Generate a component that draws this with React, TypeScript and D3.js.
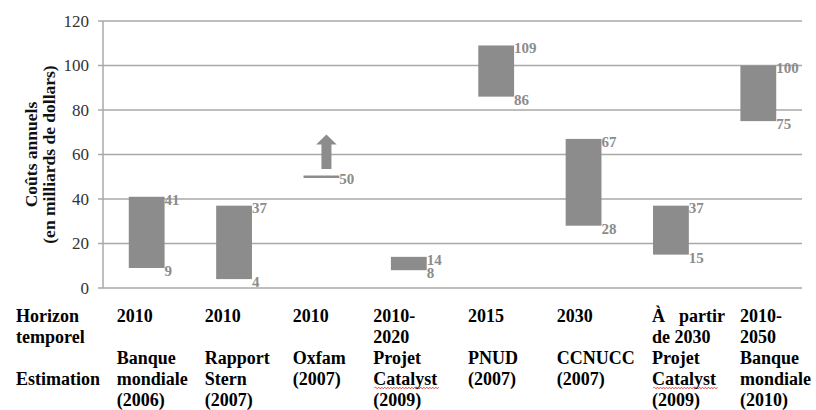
import React from "react";
import * as d3 from "d3";

const horizons: string[][] = [
  ["2010"],
  ["2010"],
  ["2010"],
  ["2010-", "2020"],
  ["2015"],
  ["2030"],
  ["À partir", "de 2030"],
  ["2010-", "2050"],
];
const estimations: string[][] = [
  ["Banque", "mondiale", "(2006)"],
  ["Rapport", "Stern", "(2007)"],
  ["Oxfam", "(2007)"],
  ["Projet", "Catalyst", "(2009)"],
  ["PNUD", "(2007)"],
  ["CCNUCC", "(2007)"],
  ["Projet", "Catalyst", "(2009)"],
  ["Banque", "mondiale", "(2010)"],
];
const lows: number[] = [9, 4, 50, 8, 86, 28, 15, 75];
const highs: (number | null)[] = [41, 37, null, 14, 109, 67, 37, 100];
const yTicks: number[] = [0, 20, 40, 60, 80, 100, 120];
const arrowTop = 69;
const arrowBottom = 53.5;
const arrowHeadBase = 64.5;

// layout
const W = 816;
const H = 410;
const left = 103;
const right = 802;
const top = 21;
const bottom = 288;
const tableX = [116.7, 204.7, 292.7, 373.3, 468, 556.7, 652, 740];
const rowBase = [321.5, 342.5, 363.5, 384.5, 405.5];
const GRID = "#a9a9a9";
const BAR = "#8c8c8c";
const SERIF = "'Liberation Serif', 'Times New Roman', serif";

function wavy(x0: number, x1: number, y: number): string {
  let d = `M${x0},${y}`;
  let up = true;
  for (let x = x0 + 1.5; x <= x1; x += 1.5) {
    d += ` L${x},${y + (up ? -0.9 : 0.9)}`;
    up = !up;
  }
  return d;
}

export default function App() {
  const x = d3
    .scaleBand<number>()
    .domain(lows.map((_, i) => i))
    .range([left, right])
    .padding(0);
  const y = d3.scaleLinear().domain([0, 120]).range([bottom, top]);
  const bw = x.bandwidth() * 0.41;

  return (
    <svg
      width={W}
      height={H}
      style={{ position: "absolute", left: 0, top: 0, background: "#fff" }}
      fontFamily={SERIF}
    >
      {/* grid lines */}
      {yTicks.map((t) => (
        <g key={t}>
          <line x1={left - 5} x2={right} y1={y(t)} y2={y(t)} stroke={GRID} strokeWidth={1.5} />
          <text
            x={89}
            y={y(t)}
            dy="0.35em"
            textAnchor="end"
            fontSize={17}
            fill="#333"
          >
            {t}
          </text>
        </g>
      ))}
      <line x1={left} x2={left} y1={top} y2={bottom} stroke={GRID} strokeWidth={1.5} />

      {/* y title */}
      <g transform={`translate(0, ${(top + bottom) / 2}) rotate(-90)`}>
        <text x={0} y={37} textAnchor="middle" fontSize={17.5} fontWeight="bold" fill="#111">
          Coûts annuels
        </text>
        <text x={0} y={55} textAnchor="middle" fontSize={17.5} fontWeight="bold" fill="#111">
          (en milliards de dollars)
        </text>
      </g>

      {/* bars */}
      {lows.map((lo, i) => {
        const cx = (x(i) as number) + x.bandwidth() / 2;
        const hi = highs[i];
        const x0 = cx - bw / 2;
        const x1 = cx + bw / 2;
        if (hi === null) {
          const ax = cx + 5;
          const sw = 10;
          const hw = 20.5;
          const arrow = `M${ax - sw / 2},${y(arrowBottom)} L${ax - sw / 2},${y(arrowHeadBase)} L${ax - hw / 2},${y(arrowHeadBase)} L${ax},${y(arrowTop)} L${ax + hw / 2},${y(arrowHeadBase)} L${ax + sw / 2},${y(arrowHeadBase)} L${ax + sw / 2},${y(arrowBottom)} Z`;
          return (
            <g key={i}>
              <line x1={x0} x2={x1} y1={y(lo)} y2={y(lo)} stroke={BAR} strokeWidth={2.5} />
              <path d={arrow} fill={BAR} />
              <text x={x1} y={y(lo) + 2} dy="0.35em" fontSize={15} fontWeight="bold" fill={BAR}>
                {lo}
              </text>
            </g>
          );
        }
        return (
          <g key={i}>
            <rect x={x0} width={bw} y={y(hi)} height={y(lo) - y(hi)} fill={BAR} />
            <text x={x1} y={y(hi) + 2.5} dy="0.35em" fontSize={15} fontWeight="bold" fill={BAR}>
              {hi}
            </text>
            <text x={x1} y={y(lo) + 3} dy="0.35em" fontSize={15} fontWeight="bold" fill={BAR}>
              {lo}
            </text>
          </g>
        );
      })}

      {/* table */}
      <g fontSize={18} fontWeight="bold" fill="#000">
        <text x={16} y={rowBase[0]}>Horizon</text>
        <text x={16} y={rowBase[1]}>temporel</text>
        <text x={16} y={rowBase[3]}>Estimation</text>
        {horizons.map((lines, i) =>
          lines.map((s, j) => {
            if (s === "À partir") {
              return (
                <g key={`h${i}-${j}`}>
                  <text x={tableX[i]} y={rowBase[j]}>À</text>
                  <text x={725} y={rowBase[j]} textAnchor="end">partir</text>
                </g>
              );
            }
            return (
              <text key={`h${i}-${j}`} x={tableX[i]} y={rowBase[j]}>
                {s}
              </text>
            );
          })
        )}
        {estimations.map((lines, i) =>
          lines.map((s, j) => (
            <text key={`e${i}-${j}`} x={tableX[i]} y={rowBase[2 + j]}>
              {s}
            </text>
          ))
        )}
      </g>
      {estimations.map((lines, i) =>
        lines.map((s, j) =>
          s === "Catalyst" ? (
            <path
              key={`w${i}-${j}`}
              d={wavy(tableX[i] + 1, tableX[i] + 66, rowBase[2 + j] + 3.5)}
              fill="none"
              stroke="#e03030"
              strokeWidth={0.8}
            />
          ) : null
        )
      )}
    </svg>
  );
}
